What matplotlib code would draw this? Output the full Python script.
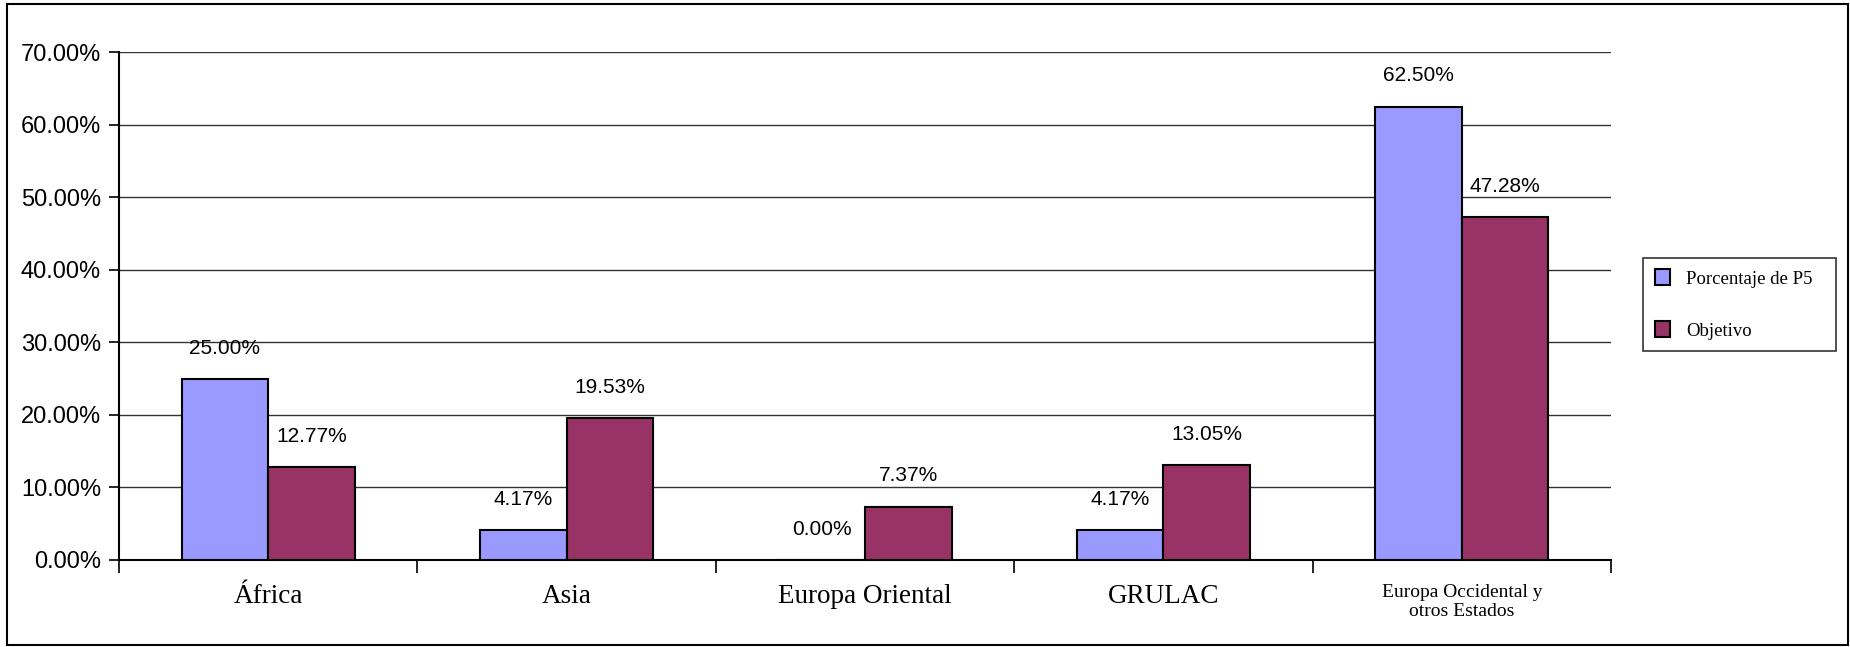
import numpy as np
import matplotlib.pyplot as plt
from matplotlib.patches import Rectangle, Patch
from matplotlib.ticker import PercentFormatter

# Data
regions = ['África', 'Asia', 'Europa Oriental', 'GRULAC', 'Europa Occidental y\notros Estados']
p5_share = [25.00, 4.17, 0.00, 4.17, 62.50]
target = [12.77, 19.53, 7.37, 13.05, 47.28]
series_names = ['Porcentaje de P5', 'Objetivo']
colors = ['#9999FF', '#993366']

fig = plt.figure(figsize=(18.5, 6.47), dpi=100)
ax = fig.add_axes([0.0643, 0.1345, 0.8065, 0.785])

x = np.arange(len(regions))
w = 0.29
b1 = ax.bar(x - w / 2, p5_share, w, color=colors[0], edgecolor='black', linewidth=1.5, zorder=3)
b2 = ax.bar(x + w / 2, target, w, color=colors[1], edgecolor='black', linewidth=1.5, zorder=3)

# Data labels
for bars, vals in [(b1, p5_share), (b2, target)]:
    for bar, v in zip(bars, vals):
        ax.annotate(f'{v:.2f}%', (bar.get_x() + bar.get_width() / 2, v),
                    xytext=(0, 22), textcoords='offset points', ha='center', va='center',
                    fontsize=15, family='Liberation Sans', zorder=4)

ax.set_xlim(-0.5, len(regions) - 0.5)
ax.set_ylim(0, 70)
ax.set_yticks(np.arange(0, 71, 10))
ax.yaxis.set_major_formatter(PercentFormatter(decimals=2))
ax.grid(axis='y', color='#333333', linewidth=1, zorder=0)

for lbl in ax.get_yticklabels():
    lbl.set_family('Liberation Sans')
    lbl.set_fontsize(17)
ax.tick_params(axis='y', direction='out', length=7, width=1.2, pad=6)

ax.set_xticks(x)
ax.set_xticklabels(regions, family='Liberation Serif', fontsize=19.5)
ax.get_xticklabels()[-1].set_fontsize(14)
ax.tick_params(axis='x', which='major', length=0, pad=17)
ax.set_xticks(np.arange(-0.5, len(regions)), minor=True)
ax.tick_params(axis='x', which='minor', direction='out', length=9, width=1.2)

for s in ['top', 'right']:
    ax.spines[s].set_visible(False)
for s in ['left', 'bottom']:
    ax.spines[s].set_linewidth(1.5)

# Legend
handles = [Patch(facecolor=c, edgecolor='black', linewidth=1.5) for c in colors]
leg = fig.legend(handles, series_names, loc='center left',
                 bbox_to_anchor=(1634 / 1850, 1 - 352 / 647, 211 / 1850, 95 / 647),
                 mode='expand', frameon=True, fancybox=False, edgecolor='black',
                 prop={'family': 'Liberation Serif', 'size': 13.5},
                 handlelength=0.8, handleheight=0.9, labelspacing=1.8, borderpad=0.6,
                 handletextpad=0.9)
leg.get_frame().set_linewidth(1.2)

# Outer border
fig.patches.append(Rectangle((0.004, 0.003), 0.995, 0.991, transform=fig.transFigure,
                             fill=False, edgecolor='black', linewidth=1.5))

fig.savefig('out.png', dpi=100)
